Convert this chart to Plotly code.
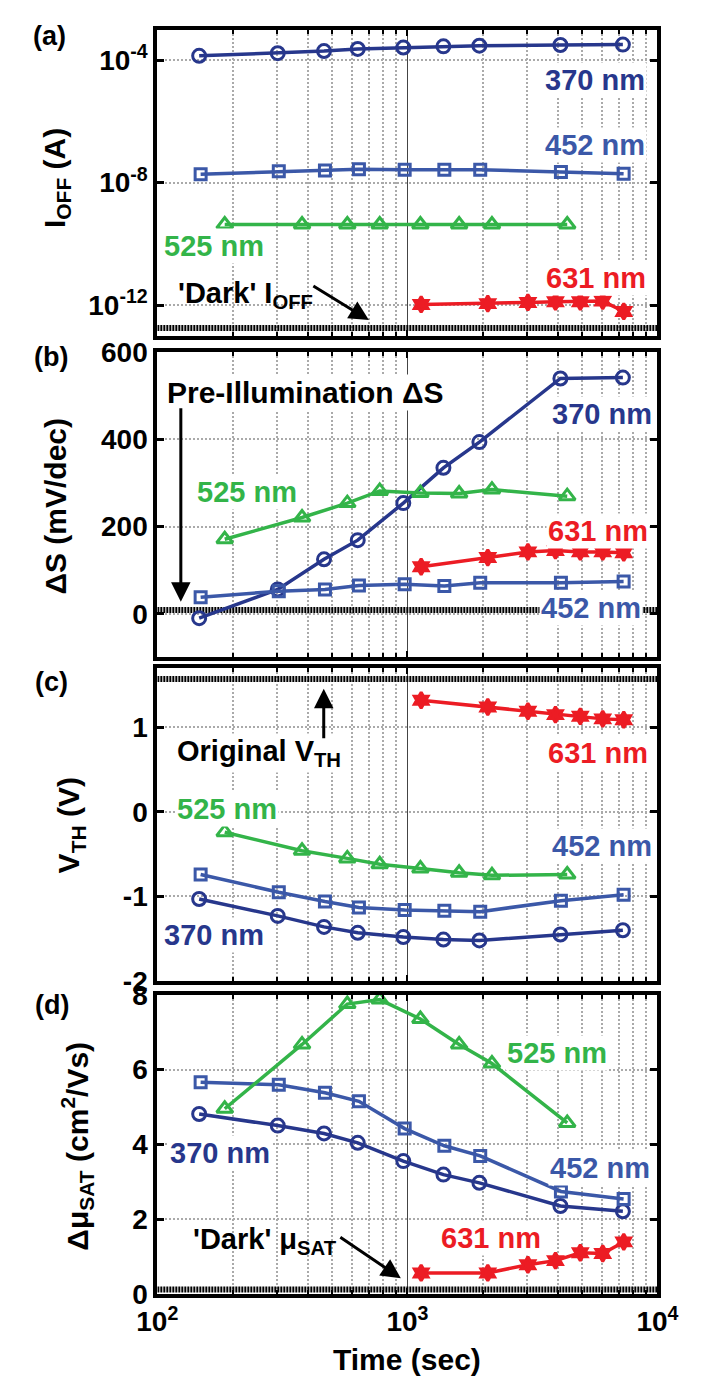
import plotly.graph_objects as go

W, H = 702, 1393

# ---------------- data ----------------
# time axes (sec) per wavelength
T370 = [147, 303, 464, 633, 963, 1393, 1940, 4090, 7270]
T452 = [149, 306, 468, 640, 975, 1405, 1955, 4110, 7320]
T525 = [186, 379, 575, 775, 1127, 1610, 2178, 4355]
T631 = [1135, 2096, 3033, 3908, 4912, 6040, 7330]

# (a) I_OFF (A)
IOFF_370 = [1.4e-4, 1.7e-4, 2.0e-4, 2.35e-4, 2.6e-4, 2.85e-4, 3.0e-4, 3.15e-4, 3.25e-4]
IOFF_452 = [1.9e-8, 2.35e-8, 2.5e-8, 2.75e-8, 2.65e-8, 2.65e-8, 2.65e-8, 2.25e-8, 1.95e-8]
IOFF_525 = [4.3e-10, 4.3e-10, 4.3e-10, 4.3e-10, 4.3e-10, 4.3e-10, 4.3e-10, 4.3e-10]
IOFF_631 = [1.05e-12, 1.12e-12, 1.22e-12, 1.29e-12, 1.29e-12, 1.35e-12, 6.2e-13]
IOFF_DARK = 1.8e-13

# (b) Delta S (mV/dec)
DS_370 = [-10, 56, 125, 169, 254, 335, 394, 540, 542]
DS_452 = [38, 52, 56, 65, 68, 64, 71, 71, 74]
DS_525 = [171, 221, 254, 282, 277, 276, 285, 270]
DS_631 = [108, 129, 142, 145, 142, 142, 140]
DS_PRE = 9

# (c) V_TH (V)
VTH_370 = [-1.03, -1.23, -1.36, -1.43, -1.48, -1.51, -1.52, -1.45, -1.40]
VTH_452 = [-0.74, -0.95, -1.06, -1.13, -1.16, -1.17, -1.18, -1.05, -0.98]
VTH_525 = [-0.24, -0.46, -0.55, -0.62, -0.67, -0.72, -0.75, -0.74]
VTH_631 = [1.32, 1.24, 1.19, 1.15, 1.13, 1.10, 1.09]
VTH_ORIG = 1.57

# (d) Delta mu_SAT (cm2/Vs)
MU_370 = [4.81, 4.50, 4.29, 4.04, 3.55, 3.19, 2.97, 2.35, 2.21]
MU_452 = [5.66, 5.59, 5.38, 5.15, 4.42, 3.96, 3.69, 2.74, 2.54]
MU_525 = [4.95, 6.67, 7.75, 7.87, 7.35, 6.67, 6.16, 4.57]
MU_631 = [0.56, 0.56, 0.78, 0.89, 1.10, 1.08, 1.39]
MU_DARK = 0.12

X_TICKS = [100, 1000, 10000]
X_TICKTEXT = ["10<sup>2</sup>", "10<sup>3</sup>", "10<sup>4</sup>"]
X_MINOR = [200, 300, 400, 500, 600, 700, 800, 900,
           2000, 3000, 4000, 5000, 6000, 7000, 8000, 9000]
X_SPAN = [100, 10000]

A_TICKS = [1e-12, 1e-8, 1e-4]
A_TICKTEXT = ["10<sup>-12</sup>", "10<sup>-8</sup>", "10<sup>-4</sup>"]
B_TICKS = [0, 200, 400, 600]
C_TICKS = [-2, -1, 0, 1]
C_TICKTEXT = ["-2", "-1", "0", "1"]
D_TICKS = [0, 2, 4, 6, 8]

# ---------------- style ----------------
FONT = "Liberation Sans, Arial, Helvetica, sans-serif"
C370 = "#27378c"
C452 = "#3b58a8"
C525 = "#33b449"
C631 = "#ec1c24"
XDOM = [145 / W, 677 / W]


def ydom(top, bottom):
    return [1 - bottom / H, 1 - top / H]


def P(x, y):
    return x / W, 1 - y / H


fig = go.Figure()

series = [
    ("370 nm", T370, C370, "circle-open", 13),
    ("452 nm", T452, C452, "square-open", 11),
    ("525 nm", T525, C525, "triangle-up-open", 14),
    ("631 nm", T631, C631, "hexagram", 12),
]
panels = [
    ("y", [IOFF_370, IOFF_452, IOFF_525, IOFF_631], IOFF_DARK),
    ("y2", [DS_370, DS_452, DS_525, DS_631], DS_PRE),
    ("y3", [VTH_370, VTH_452, VTH_525, VTH_631], VTH_ORIG),
    ("y4", [MU_370, MU_452, MU_525, MU_631], MU_DARK),
]

for i, (ya, vals, ref) in enumerate(panels):
    xa = "x" if i == 0 else "x%d" % (i + 1)
    fig.add_trace(go.Scatter(
        x=X_SPAN, y=[ref, ref], mode="lines", xaxis=xa, yaxis=ya,
        line=dict(color="black", width=6, dash="2px,1px"), showlegend=False))
    for (name, t, col, sym, sz), v in zip(series, vals):
        mk = dict(symbol=sym, size=sz, color=col, line=dict(color=col, width=3))
        fig.add_trace(go.Scatter(
            x=t, y=v, mode="lines+markers", xaxis=xa, yaxis=ya, name=name,
            line=dict(color=col, width=3.5), marker=mk, showlegend=False))

tickfont = dict(family=FONT, size=28, color="black", weight="bold")


def xaxis(anchor, labels):
    return dict(
        type="log", range=[2, 4], domain=XDOM, anchor=anchor,
        showline=True, linewidth=4, linecolor="black", mirror="ticks",
        ticks="inside", ticklen=6, tickwidth=2, tickcolor="black",
        tickvals=X_TICKS, ticktext=X_TICKTEXT, showticklabels=labels,
        tickfont=tickfont, showgrid=True, gridcolor="#444444", gridwidth=1.3,
        zeroline=False,
        minor=dict(tickvals=X_MINOR, ticks="inside", ticklen=4, tickwidth=1.5,
                   tickcolor="black", showgrid=True, gridcolor="#aaaaaa",
                   gridwidth=2, griddash="2px,2px"))


def yaxis(anchor, dom, **kw):
    d = dict(
        domain=dom, anchor=anchor, showline=True, linewidth=4, linecolor="black",
        mirror="ticks", ticks="inside", ticklen=7, tickwidth=3, tickcolor="black",
        tickfont=tickfont, showgrid=True, gridcolor="#aaaaaa", gridwidth=2,
        griddash="2px,2px", zeroline=False)
    d.update(kw)
    return d


fig.update_layout(
    width=W, height=H, margin=dict(l=0, r=0, t=0, b=0),
    paper_bgcolor="white", plot_bgcolor="white",
    font=dict(family=FONT, size=28, color="black", weight="bold"),
    xaxis=xaxis("y", False), xaxis2=xaxis("y2", False),
    xaxis3=xaxis("y3", False), xaxis4=xaxis("y4", True),
    yaxis=yaxis("x", ydom(15, 328), type="log", range=[-13, -3],
                tickvals=A_TICKS, ticktext=A_TICKTEXT),
    yaxis2=yaxis("x2", ydom(345, 657), range=[-100, 600], tickvals=B_TICKS),
    yaxis3=yaxis("x3", ydom(668, 988), range=[-2, 1.7], tickvals=C_TICKS,
                 ticktext=C_TICKTEXT),
    yaxis4=yaxis("x4", ydom(1002, 1308), range=[0, 8], tickvals=D_TICKS),
)

ann = []


def text(s, x, y, color="black", size=29, xanchor="center", bg=None, angle=0):
    px, py = P(x, y)
    a = dict(text=s, x=px, y=py, xref="paper", yref="paper", showarrow=False,
             xanchor=xanchor, yanchor="middle", textangle=angle,
             font=dict(family=FONT, size=size, color=color, weight="bold"))
    if bg:
        a.update(bgcolor=bg, borderpad=1)
    ann.append(a)


def arrow(hx, hy, tx, ty):
    px, py = P(hx, hy)
    ann.append(dict(text="", x=px, y=py, xref="paper", yref="paper",
                    showarrow=True, ax=tx - hx, ay=ty - hy, arrowhead=2,
                    arrowsize=1.3, arrowwidth=3, arrowcolor="black", standoff=0))


# panel letters
text("(a)", 30, 21, size=27)
text("(b)", 32, 350, size=27)
text("(c)", 32, 682, size=27)
text("(d)", 33, 1013, size=27)

# y titles (rotated)
text("I<sub>OFF</sub> (A)", 37, 167, angle=-90, size=30)
text("ΔS (mV/dec)", 37, 502, angle=-90, size=30)
text("V<sub>TH</sub> (V)", 53, 829, angle=-90, size=30)
text("Δμ<sub>SAT</sub> (cm<sup>2</sup>/Vs)", 60, 1157, angle=-90, size=30)
text("Time (sec)", 411, 1375, size=30)

# (a)
text("370 nm", 610, 66, C370, bg="white")
text("452 nm", 610, 133, C452, bg="white")
text("525 nm", 205, 236, C525, bg="white")
text("631 nm", 612, 269, C631, bg="white")
text("'Dark' I<sub>OFF</sub>", 165, 286, xanchor="left")
arrow(370, 312, 313, 277)

# (b)
text("Pre-Illumination ΔS", 303, 386, size=30, bg="white")
arrow(170, 600, 170, 405)
text("370 nm", 618, 408, C370, bg="white")
text("525 nm", 240, 488, C525, bg="white")
text("631 nm", 614, 528, C631, bg="white")
text("452 nm", 606, 606, C452, bg="white")

# (c)
text("Original V<sub>TH</sub>", 164, 755, xanchor="left", bg="white")
arrow(322, 689, 322, 740)
text("631 nm", 614, 755, C631, bg="white")
text("525 nm", 219, 812, C525, bg="white")
text("452 nm", 618, 850, C452, bg="white")
text("370 nm", 205, 941, C370, bg="white")

# (d)
text("525 nm", 570, 1062, C525, bg="white")
text("370 nm", 212, 1164, C370, bg="white")
text("452 nm", 616, 1179, C452, bg="white")
text("631 nm", 500, 1251, C631, bg="white")
text("'Dark' μ<sub>SAT</sub>", 181, 1254, xanchor="left")
arrow(404, 1292, 342, 1250)

fig.update_layout(annotations=ann)
fig.write_html("out.html")
